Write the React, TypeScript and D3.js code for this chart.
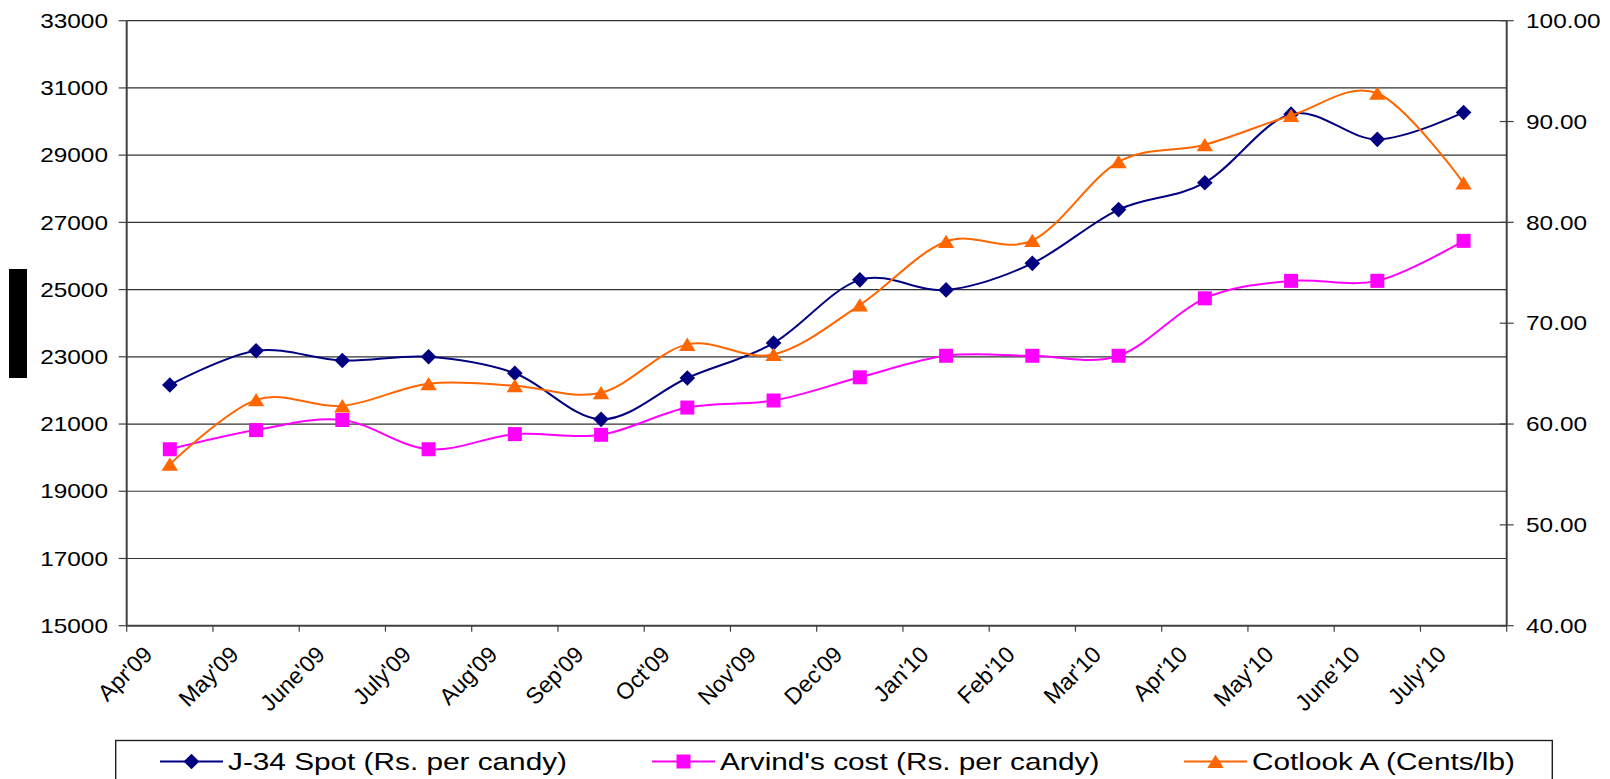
import React, { useEffect, useRef } from 'react'
import { select, scaleBand, scaleLinear, line, curveCardinal } from 'd3'

const months = [
  "Apr'09", "May'09", "June'09", "July'09", "Aug'09", "Sep'09", "Oct'09", "Nov'09",
  "Dec'09", "Jan'10", "Feb'10", "Mar'10", "Apr'10", "May'10", "June'10", "July'10",
]
const j34Spot = [22160, 23180, 22890, 23000, 22510, 21140, 22370, 23410, 25290, 24990, 25780, 27380, 28180, 30220, 29470, 30270]
const arvindCost = [20250, 20820, 21120, 20250, 20700, 20680, 21490, 21700, 22390, 23030, 23030, 23030, 24740, 25260, 25260, 26450]
const cotlookA = [56.0, 62.4, 61.8, 64.0, 63.8, 63.1, 67.9, 66.9, 71.8, 78.1, 78.2, 86.0, 87.7, 90.6, 92.8, 83.9]

const leftTicks = [15000, 17000, 19000, 21000, 23000, 25000, 27000, 29000, 31000, 33000]
const rightTicks = [40, 50, 60, 70, 80, 90, 100]

const legendNames = ['J-34 Spot (Rs. per candy)', "Arvind's cost (Rs. per candy)", 'Cotlook A (Cents/lb)']

const W = 1610
const H = 779
const FONT = "'Liberation Sans', Arial, sans-serif"
const SX = 1.22 // glyphs in the picture are stretched sideways

const NAVY = '#000080'
const PINK = '#ff00ff'
const ORANGE = '#ff6600'
const AXIS = '#404040'

const diamond = 'M0,-7.8L7.8,0L0,7.8L-7.8,0Z'
const square = 'M-7,-7L7,-7L7,7L-7,7Z'
const triangle = 'M0,-6.8L8.2,6.5L-8.2,6.5Z'

export default function App(): JSX.Element {
  const svgRef = useRef<SVGSVGElement | null>(null)

  useEffect(() => {
    const svg = select(svgRef.current)
    svg.selectAll('*').remove()

    const left = 126.7
    const right = 1506.7
    const top = 20.7
    const bottom = 625.7

    const x = scaleBand<string>().domain(months).range([left, right]).padding(0)
    const bw = x.bandwidth()
    const cx = (m: string) => (x(m) as number) + bw / 2
    const yL = scaleLinear().domain([15000, 33000]).range([bottom, top])
    const yR = scaleLinear().domain([40, 100]).range([bottom, top])

    // black block at the left edge
    svg.append('rect').attr('x', 9).attr('y', 269).attr('width', 18).attr('height', 109).attr('fill', '#000')

    // gridlines
    svg
      .append('g')
      .selectAll('line')
      .data(leftTicks.slice(1))
      .join('line')
      .attr('x1', left)
      .attr('x2', right)
      .attr('y1', (d) => yL(d))
      .attr('y2', (d) => yL(d))
      .attr('stroke', '#333')
      .attr('stroke-width', 1.2)

    // left axis
    const gl = svg.append('g')
    gl.append('line').attr('x1', left).attr('x2', left).attr('y1', top).attr('y2', bottom).attr('stroke', AXIS).attr('stroke-width', 2)
    gl.selectAll('line.t')
      .data(leftTicks)
      .join('line')
      .attr('class', 't')
      .attr('x1', left - 8)
      .attr('x2', left)
      .attr('y1', (d) => yL(d))
      .attr('y2', (d) => yL(d))
      .attr('stroke', AXIS)
      .attr('stroke-width', 1.2)
    gl.selectAll('text')
      .data(leftTicks)
      .join('text')
      .attr('transform', (d) => `translate(108,${yL(d)}) scale(${SX},1)`)
      .attr('dy', '0.36em')
      .attr('text-anchor', 'end')
      .attr('font-family', FONT)
      .attr('font-size', 20)
      .attr('fill', '#000')
      .text((d) => d)

    // right axis
    const gr = svg.append('g')
    gr.append('line').attr('x1', right).attr('x2', right).attr('y1', top).attr('y2', bottom).attr('stroke', AXIS).attr('stroke-width', 2)
    gr.selectAll('line.t')
      .data(rightTicks)
      .join('line')
      .attr('class', 't')
      .attr('x1', right - 7)
      .attr('x2', right + 7)
      .attr('y1', (d) => yR(d))
      .attr('y2', (d) => yR(d))
      .attr('stroke', AXIS)
      .attr('stroke-width', 1.2)
    gr.selectAll('text')
      .data(rightTicks)
      .join('text')
      .attr('transform', (d) => `translate(1526,${yR(d)}) scale(${SX},1)`)
      .attr('dy', '0.36em')
      .attr('font-family', FONT)
      .attr('font-size', 20)
      .attr('fill', '#000')
      .text((d) => d.toFixed(2))

    // bottom axis
    const gb = svg.append('g')
    gb.append('line').attr('x1', left).attr('x2', right).attr('y1', bottom).attr('y2', bottom).attr('stroke', AXIS).attr('stroke-width', 2)
    const edges = months.map((m) => x(m) as number).concat([right])
    gb.selectAll('line.t')
      .data(edges)
      .join('line')
      .attr('class', 't')
      .attr('x1', (d) => d)
      .attr('x2', (d) => d)
      .attr('y1', bottom)
      .attr('y2', bottom + 6)
      .attr('stroke', AXIS)
      .attr('stroke-width', 1.2)
    gb.selectAll('text')
      .data(months)
      .join('text')
      .attr('transform', (d) => `translate(${cx(d) - 16},656) rotate(-45)`)
      .attr('text-anchor', 'end')
      .attr('font-family', FONT)
      .attr('font-size', 23)
      .attr('fill', '#000')
      .text((d) => d)

    // series
    const series = [
      { values: j34Spot, y: yL, color: NAVY, marker: diamond },
      { values: arvindCost, y: yL, color: PINK, marker: square },
      { values: cotlookA, y: yR, color: ORANGE, marker: triangle },
    ]

    series.forEach((s) => {
      const pts = s.values.map((v, i) => [cx(months[i]), s.y(v)] as [number, number])
      const path = line<[number, number]>()
        .x((d) => d[0])
        .y((d) => d[1])
        .curve(curveCardinal.tension(0))
      const g = svg.append('g')
      g.append('path')
        .datum(pts)
        .attr('fill', 'none')
        .attr('stroke', s.color)
        .attr('stroke-width', 2)
        .attr('d', path)
      g.selectAll('path.m')
        .data(pts)
        .join('path')
        .attr('class', 'm')
        .attr('d', s.marker)
        .attr('transform', (d) => `translate(${d[0]},${d[1]})`)
        .attr('fill', s.color)
    })

    // legend
    const lg = svg.append('g')
    lg.append('rect')
      .attr('x', 115.7)
      .attr('y', 740.5)
      .attr('width', 1436.6)
      .attr('height', 60)
      .attr('fill', '#fff')
      .attr('stroke', '#202020')
      .attr('stroke-width', 1.4)
    const lx = [160, 652, 1184]
    series.forEach((s, i) => {
      const ly = 761.5
      lg.append('line')
        .attr('x1', lx[i])
        .attr('x2', lx[i] + 63)
        .attr('y1', ly)
        .attr('y2', ly)
        .attr('stroke', s.color)
        .attr('stroke-width', 2)
      lg.append('path')
        .attr('d', s.marker)
        .attr('transform', `translate(${lx[i] + 31.5},${ly})`)
        .attr('fill', s.color)
      lg.append('text')
        .attr('transform', `translate(${lx[i] + 68},${ly}) scale(${SX},1)`)
        .attr('dy', '0.36em')
        .attr('font-family', FONT)
        .attr('font-size', 24.4)
        .attr('fill', '#000')
        .text(legendNames[i])
    })
  }, [])

  return (
    <div style={{ position: 'fixed', left: 0, top: 0, width: W, height: H, background: '#fff' }}>
      <svg ref={svgRef} width={W} height={H} xmlns="http://www.w3.org/2000/svg" style={{ display: 'block' }} />
    </div>
  )
}
